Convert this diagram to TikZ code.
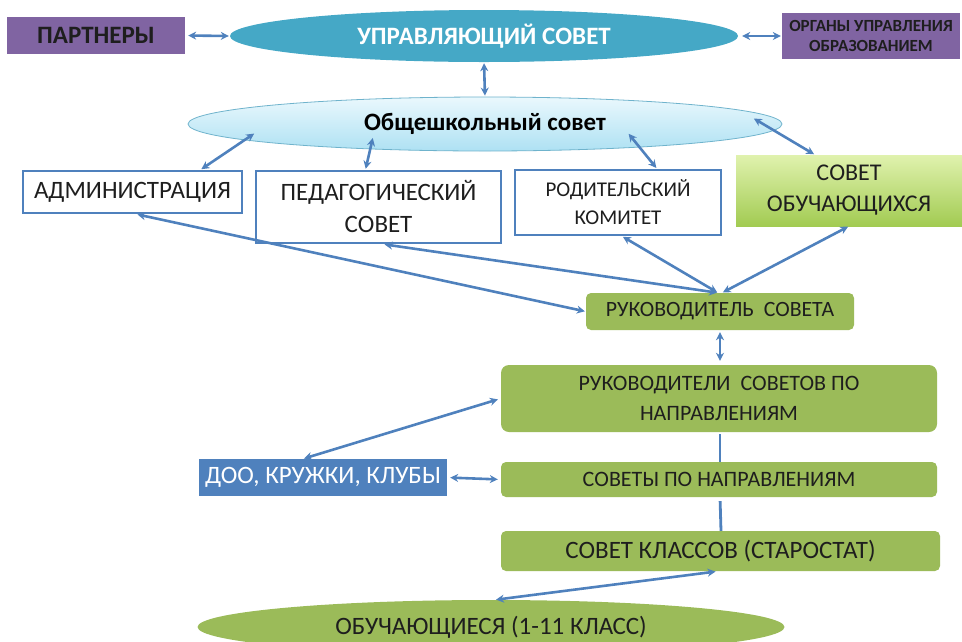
\documentclass[tikz,border=0pt]{standalone}
\usepackage{fontspec}
\setmainfont{Carlito}
\usetikzlibrary{arrows.meta,shapes.geometric}
\definecolor{purp}{HTML}{8064A2}
\definecolor{teal1}{HTML}{45A8C6}
\definecolor{ltbtop}{HTML}{EAF8FD}
\definecolor{ltbbot}{HTML}{AEE1F3}
\definecolor{obshbord}{HTML}{6FB3CC}
\definecolor{bord}{HTML}{4F81BD}
\definecolor{grn}{HTML}{9BBB59}
\definecolor{limetop}{HTML}{E0F2AE}
\definecolor{limebot}{HTML}{A2CB52}
\definecolor{arr}{HTML}{4F81BD}
\definecolor{txt}{HTML}{1E1E1E}
\tikzset{
  purpbox/.style={rectangle,fill=purp,text=txt,font=\bfseries,align=center,inner sep=0pt},
  whitebox/.style={rectangle,draw=bord,line width=2.5pt,fill=white,text=txt,align=center,inner sep=0pt},
  greenbox/.style={rectangle,rounded corners=5pt,fill=grn,text=txt,align=center,inner sep=0pt},
  link/.style={draw=arr,line width=2.6pt,{Stealth[length=8pt,width=8pt]}-{Stealth[length=8pt,width=8pt]},shorten <=1pt,shorten >=1pt},
  plainlink/.style={draw=arr,line width=2.8pt}
}
\begin{document}
\begin{tikzpicture}[x=1pt,y=-1pt]
\useasboundingbox (0,0) rectangle (962,641);
% top row
\node[purpbox,minimum width=178pt,minimum height=37pt,font=\bfseries\fontsize{25}{28}\selectfont] (partners) at (96,35.5) {ПАРТНЕРЫ};
\node[ellipse,fill=teal1,inner sep=0pt,minimum width=508pt,minimum height=52pt,text=white,font=\bfseries\fontsize{25}{27}\selectfont] (upr) at (484,36) {УПРАВЛЯЮЩИЙ СОВЕТ};
\node[purpbox,minimum width=178pt,minimum height=46pt,font=\bfseries\fontsize{17}{20}\selectfont] (organy) at (871,36) {ОРГАНЫ УПРАВЛЕНИЯ\\ОБРАЗОВАНИЕМ};
% general council
\node[ellipse,draw=obshbord,line width=0.8pt,top color=ltbtop,bottom color=ltbbot,inner sep=0pt,minimum width=594pt,minimum height=54pt,text=black,font=\bfseries\fontsize{25}{28}\selectfont] (obsh) at (485,124) {Общешкольный совет};
% second row
\node[whitebox,minimum width=219pt,minimum height=42pt,font=\fontsize{25}{29}\selectfont] (admin) at (132.5,192) {АДМИНИСТРАЦИЯ};
\node[whitebox,minimum width=245pt,minimum height=72pt,font=\fontsize{25}{32}\selectfont] (ped) at (378.5,207) {ПЕДАГОГИЧЕСКИЙ\\СОВЕТ};
\node[whitebox,minimum width=206pt,minimum height=65pt,font=\fontsize{21}{28}\selectfont] (rod) at (618,202.5) {РОДИТЕЛЬСКИЙ\\КОМИТЕТ};
\node[rectangle,top color=limetop,bottom color=limebot,inner sep=0pt,minimum width=226pt,minimum height=71pt,text=txt,align=center,font=\fontsize{24}{31}\selectfont] (sovob) at (849,190.5) {СОВЕТ\\ОБУЧАЮЩИХСЯ};
% green chain
\node[greenbox,minimum width=268pt,minimum height=37pt,font=\fontsize{21.8}{25}\selectfont] (ruk) at (720,311.5) {РУКОВОДИТЕЛЬ\ \ СОВЕТА};
\node[greenbox,rounded corners=8pt,minimum width=436pt,minimum height=67pt,font=\fontsize{22}{30}\selectfont] (rukn) at (719,398.5) {РУКОВОДИТЕЛИ\ \ СОВЕТОВ ПО\\НАПРАВЛЕНИЯМ};
\node[greenbox,minimum width=436pt,minimum height=35pt,font=\fontsize{22}{24}\selectfont] (sovn) at (719,479.5) {СОВЕТЫ ПО НАПРАВЛЕНИЯМ};
\node[greenbox,minimum width=439pt,minimum height=40pt,font=\fontsize{25}{27}\selectfont] (sovk) at (720.5,551) {СОВЕТ КЛАССОВ (СТАРОСТАТ)};
\node[rectangle,fill=bord,text=white,inner sep=0pt,minimum width=248pt,minimum height=37pt,font=\fontsize{25}{28}\selectfont] (doo) at (323,477.5) {ДОО, КРУЖКИ, КЛУБЫ};
\node[ellipse,fill=grn,inner sep=0pt,minimum width=587pt,minimum height=54pt,text=txt,font=\fontsize{25}{27}\selectfont] (obuch) at (491,627) {ОБУЧАЮЩИЕСЯ (1-11 КЛАСС)};
% connectors
\draw[link,shorten <=3pt,shorten >=1pt] (partners.east) -- (upr.west);
\draw[link,shorten <=4pt,shorten >=1pt] (upr.east) -- (organy.west);
\draw[link] (upr.south) -- (obsh.north);
\draw[link] ([shift={(-230,9)}]obsh.center) -- ([xshift=68pt]admin.north);
\draw[link] ([shift={(-112,13)}]obsh.center) -- ([xshift=-13pt]ped.north);
\draw[link] ([shift={(143,9)}]obsh.center) -- ([xshift=39pt]rod.north);
\draw[link] ([shift={(268,-6)}]obsh.center) -- ([xshift=-34pt]sovob.north);
\draw[link] ([xshift=4pt]admin.south) -- (ruk.west);
\draw[link] ([xshift=5pt]ped.south) -- ([xshift=-2pt]ruk.north);
\draw[link] ([xshift=4pt]rod.south) -- ([xshift=-2pt]ruk.north);
\draw[link] (sovob.south) -- ([xshift=2pt]ruk.north);
\draw[link,shorten <=2pt,shorten >=4pt] (ruk.south) -- ([xshift=1pt]rukn.north);
\draw[link,shorten <=3pt] (rukn.west) -- ([xshift=-20pt]doo.north);
\draw[plainlink,shorten <=2pt] ([xshift=1pt]rukn.south) -- ([xshift=1pt]sovn.north);
\draw[link,shorten <=3pt,shorten >=3pt] (doo.east) -- (sovn.west);
\draw[plainlink,shorten <=4pt] ([xshift=1pt]sovn.south) -- ([xshift=0.5pt]sovk.north);
\draw[link,shorten <=3pt] ([xshift=-2pt]sovk.south) -- ([xshift=4pt]obuch.north);
\end{tikzpicture}
\end{document}
